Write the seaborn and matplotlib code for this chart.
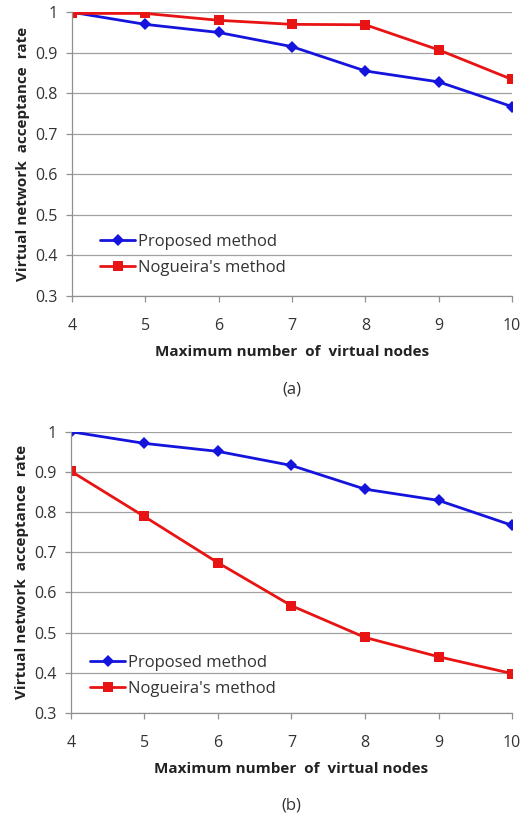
import matplotlib
matplotlib.use("Agg")
import matplotlib.pyplot as plt
import numpy as np
import pandas as pd
import seaborn as sns

NODES = [4, 5, 6, 7, 8, 9, 10]
PROPOSED_A = [1.0, 0.970, 0.950, 0.915, 0.855, 0.828, 0.767]
NOGUEIRA_A = [0.997, 0.997, 0.980, 0.970, 0.969, 0.907, 0.834]
PROPOSED_B = [1.0, 0.971, 0.951, 0.916, 0.857, 0.829, 0.767]
NOGUEIRA_B = [0.902, 0.789, 0.674, 0.567, 0.488, 0.440, 0.398]
YTICKS = [0.3, 0.4, 0.5, 0.6, 0.7, 0.8, 0.9, 1.0]
YTICK_LABELS = ["0.3", "0.4", "0.5", "0.6", "0.7", "0.8", "0.9", "1"]
METHODS = ["Proposed method", "Nogueira's method"]

sns.set_theme(style="white")
plt.rcParams["font.family"] = ["Open Sans", "DejaVu Sans"]

fig = plt.figure(figsize=(5.28, 8.13), dpi=100)
ax_a = fig.add_axes([0.136, 0.636, 0.834, 0.349])
ax_b = fig.add_axes([0.134, 0.123, 0.836, 0.346])


def draw(ax, proposed, nogueira, tag, legend_x, legend_y):
    df = pd.DataFrame({
        "nodes": NODES * 2,
        "rate": proposed + nogueira,
        "method": [METHODS[0]] * len(NODES) + [METHODS[1]] * len(NODES),
    })
    sns.lineplot(
        data=df, x="nodes", y="rate", hue="method", style="method",
        palette={METHODS[0]: "#1414dc", METHODS[1]: "#e81414"},
        markers={METHODS[0]: "D", METHODS[1]: "s"},
        dashes=False, markersize=6.5, linewidth=2.0, markeredgewidth=0,
        ax=ax,
    )
    ax.set_xlim(4, 10)
    ax.set_ylim(0.3, 1.0)
    ax.set_xticks(NODES)
    ax.set_yticks(YTICKS)
    ax.set_yticklabels(YTICK_LABELS)
    ax.yaxis.grid(True, color="#a0a0a0", linewidth=0.9)
    ax.set_axisbelow(True)
    for side in ["top", "right"]:
        ax.spines[side].set_visible(False)
    for side in ["left", "bottom"]:
        ax.spines[side].set_color("#909090")
        ax.spines[side].set_linewidth(0.9)
    ax.tick_params(axis="x", pad=12)
    ax.tick_params(axis="y", pad=6)
    ax.tick_params(axis="both", which="major", length=4, width=0.9,
                   color="#909090", labelsize=11.5, labelcolor="#333333",
                   direction="out", bottom=True, left=True)
    ax.set_xlabel("Maximum number  of  virtual nodes", fontsize=11,
                  fontweight="bold", color="#222222", labelpad=8)
    ax.set_ylabel("Virtual network  acceptance  rate", fontsize=11,
                  fontweight="bold", color="#222222", labelpad=4)
    leg = ax.legend(loc="center left", bbox_to_anchor=(legend_x, legend_y),
                    frameon=False, fontsize=12, handlelength=2.1,
                    handletextpad=0.15, labelspacing=0.62)
    for t in leg.get_texts():
        t.set_color("#333333")
    ax.text(0.5, -0.33, tag, transform=ax.transAxes, ha="center",
            va="center", fontsize=12, color="#333333")


draw(ax_a, PROPOSED_A, NOGUEIRA_A, "(a)", 0.03, 0.144)
draw(ax_b, PROPOSED_B, NOGUEIRA_B, "(b)", 0.01, 0.132)

fig.savefig("out.png", dpi=100)
plt.close(fig)
